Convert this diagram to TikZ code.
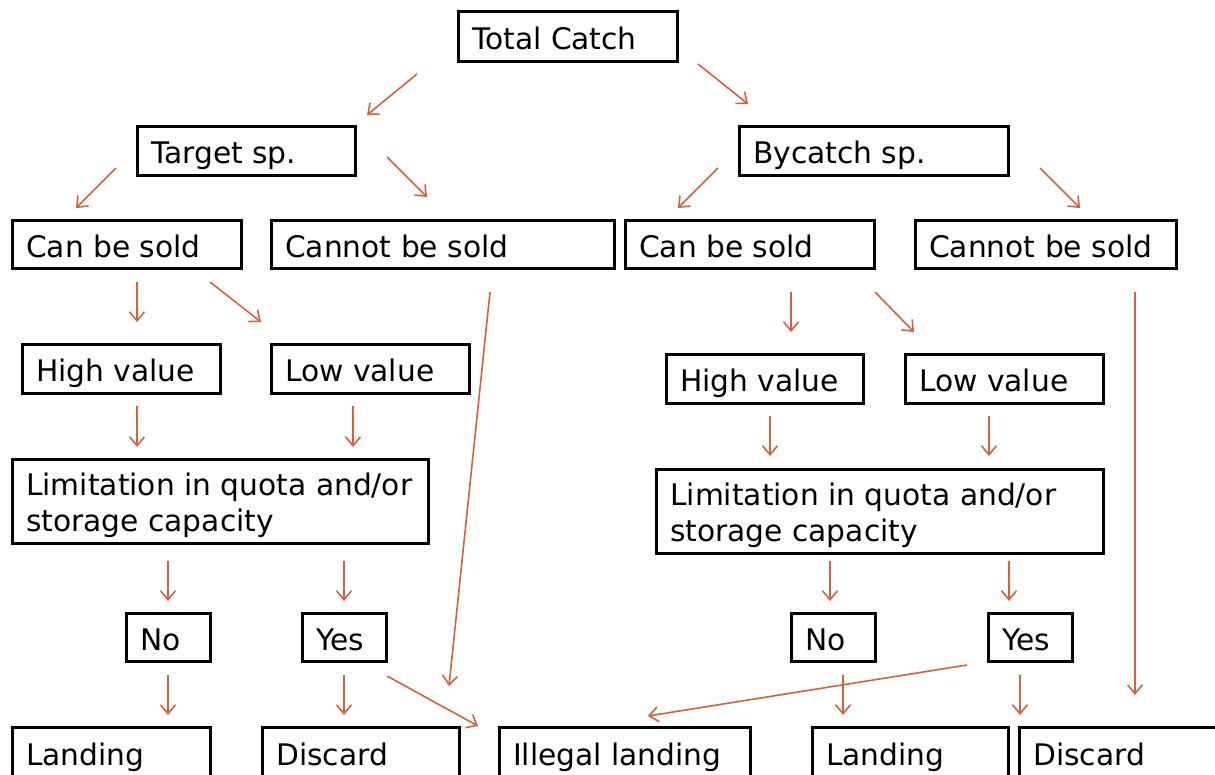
\documentclass[tikz,border=0pt]{standalone}
\usepackage{fontspec}
\setmainfont{DejaVu Sans}
\usetikzlibrary{arrows.meta}
\definecolor{arr}{HTML}{D9603B}
\newcommand\mybox[7]{%
  \pgfmathsetmacro\bw{#4-#2}\pgfmathsetmacro\bh{#5-#3}%
  \node[box, minimum width=\bw pt, minimum height=\bh pt] (#1) at (#2,#3) {};
  \node[lbl] (#1-t) at ([xshift=14pt,yshift=-#6pt]#1.west) {#7};}
\begin{document}
\begin{tikzpicture}[x=1pt,y=-1pt,
  box/.style={draw, line width=3pt, anchor=north west, outer sep=0pt, inner sep=0pt},
  lbl/.style={anchor=base west, inner sep=0pt, font=\fontsize{29.7}{35.5}\selectfont},
  conn/.style={draw=arr, line width=1.6pt, -{Straight Barb[length=9pt,width=15pt,line width=1.6pt]}}]
\useasboundingbox (0,0) rectangle (1215,774);
\clip (0,0) rectangle (1215,774);
\mybox{total}{458}{11}{677}{61}{13.5}{Total Catch}
\mybox{target}{137}{126}{355}{175}{13}{Target sp.}
\mybox{bycatch}{739}{126}{1008}{175}{13}{Bycatch sp.}
\mybox{canL}{12}{220}{241}{268}{13}{Can be sold}
\mybox{cannotL}{271}{220}{614}{268}{13}{Cannot be sold}
\mybox{canR}{625}{220}{874}{268}{13}{Can be sold}
\mybox{cannotR}{915}{220}{1176}{268}{13}{Cannot be sold}
\mybox{highL}{22}{344}{220}{393}{13}{High value}
\mybox{lowL}{271}{344}{469}{393}{13}{Low value}
\mybox{highR}{666}{354}{863}{403}{13}{High value}
\mybox{lowR}{905}{354}{1103}{403}{13}{Low value}
\mybox{limL}{12}{459}{428}{543}{-5.5}{\parbox[t]{420pt}{\raggedright Limitation in quota and/or\\storage capacity}}
\mybox{limR}{656}{469}{1103}{553}{-5.5}{\parbox[t]{440pt}{\raggedright Limitation in quota and/or\\storage capacity}}
\mybox{noL}{126}{613}{210}{661}{13}{No}
\mybox{yesL}{302}{613}{386}{661}{13}{Yes}
\mybox{noR}{791}{613}{875}{661}{13}{No}
\mybox{yesR}{988}{613}{1072}{661}{13}{Yes}
\mybox{landL}{12}{727}{210}{777}{13}{Landing}
\mybox{discL}{262}{727}{459}{777}{13}{Discard}
\mybox{illegal}{499}{727}{750}{777}{13}{Illegal landing}
\mybox{landR}{812}{727}{1008}{777}{13}{Landing}
\mybox{discR}{1019}{727}{1230}{777}{13}{Discard}
% connector end points
\foreach \n/\x/\y in {a1/417/74, a2/367/115, b1/698/64, b2/748/104,
  c1/116/168, c2/76/208, d1/387/157, d2/427/197,
  e1/718/168, e2/678/208, f1/1040/168, f2/1080/208,
  g1/137/282, g2/137/322, h1/210/282, h2/261/322,
  i1/490/292, i2/449/686, j1/791/292, j2/791/332,
  k1/875/292, k2/914/332, l1/1135/292, l2/1135/695,
  m1/137/406, m2/137/447, n1/353/406, n2/353/447,
  o1/770/416, o2/770/456, p1/989/416, p2/989/456,
  q1/168/561, q2/168/601, r1/344/561, r2/344/601,
  s1/830/561, s2/830/601, t1/1009/561, t2/1009/601,
  u1/168/675, u2/168/715, v1/344/675, v2/344/715,
  w1/387/676, w2/478/726, z1/967/665, z2/648/716,
  y1/843/675, y2/843/715, x1/1020/675, x2/1020/715}
  {\coordinate (\n) at (\x,\y);}
\foreach \s in {a,b,c,d,e,f,g,h,i,j,k,l,m,n,o,p,q,r,s,t,u,v,w,z,y,x}
  {\draw[conn] (\s1) -- (\s2);}
\end{tikzpicture}
\end{document}
